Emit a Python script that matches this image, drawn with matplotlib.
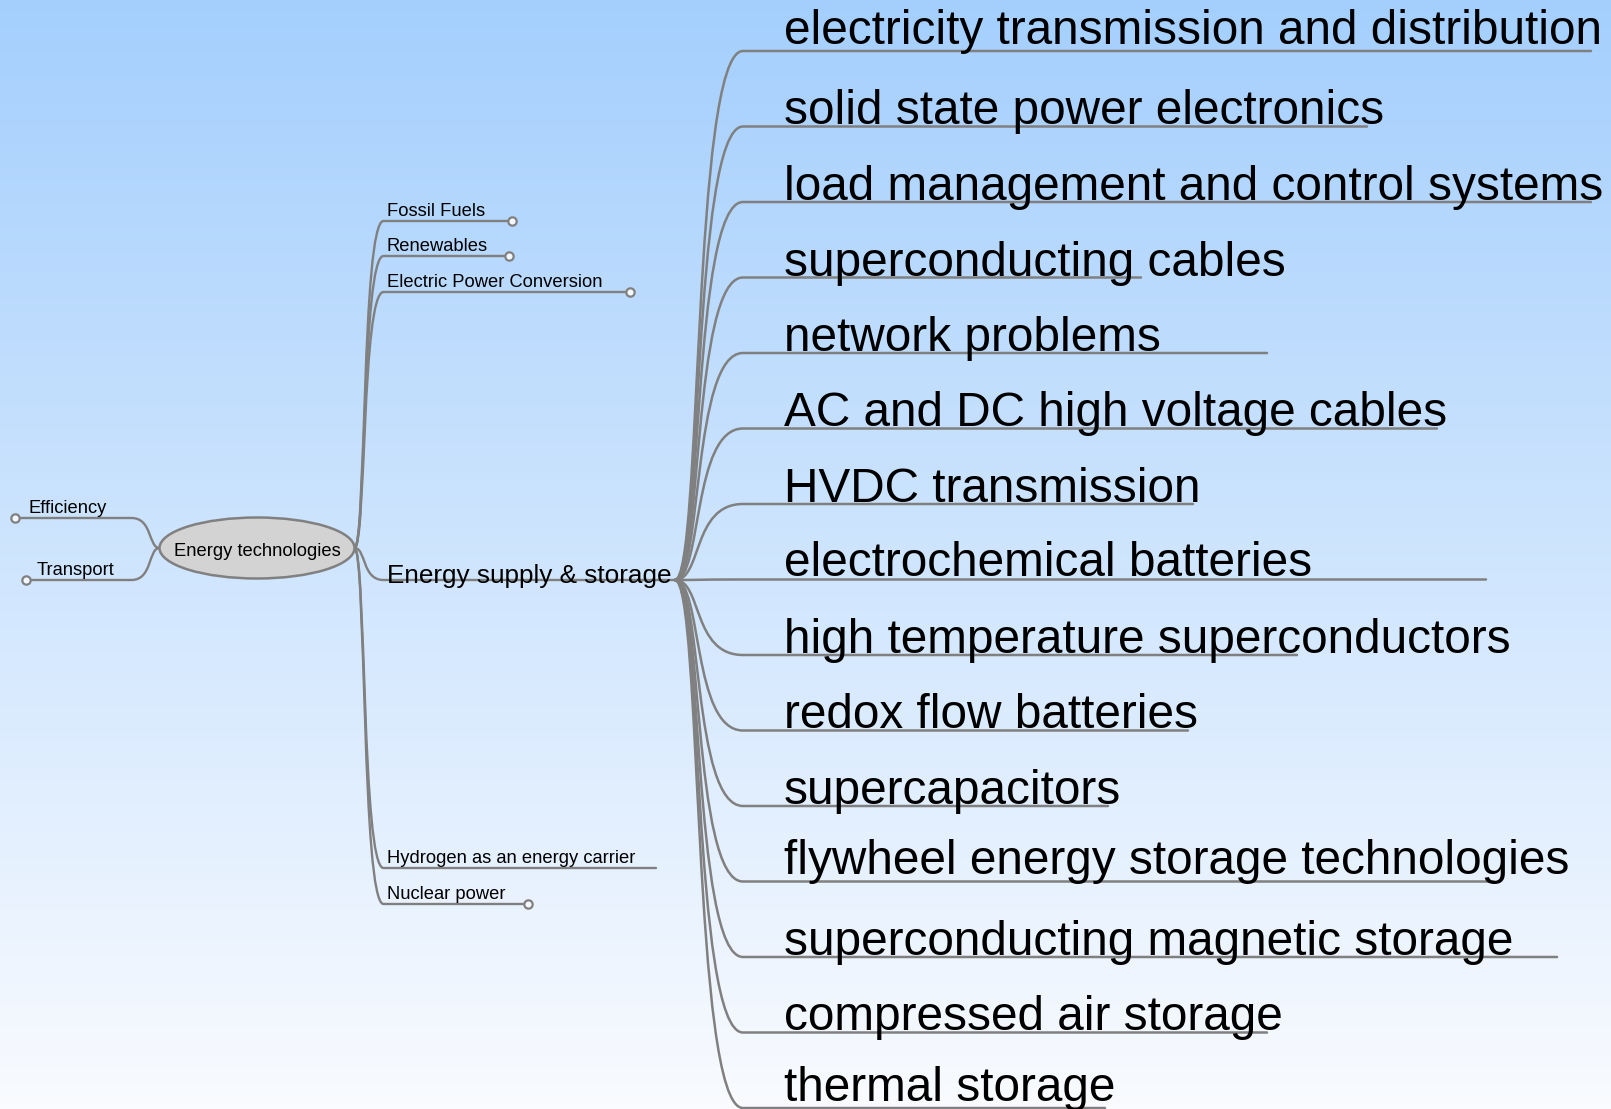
import numpy as np
import matplotlib.pyplot as plt
from matplotlib.path import Path
from matplotlib.patches import PathPatch, Ellipse

# mind map content
root = "Energy technologies"
left_topics = ["Efficiency", "Transport"]
right_topics = ["Fossil Fuels", "Renewables", "Electric Power Conversion",
                "Energy supply & storage", "Hydrogen as an energy carrier", "Nuclear power"]
right_folded = [True, True, True, False, False, True]
storage_items = [
    "electricity transmission and distribution",
    "solid state power electronics",
    "load management and control systems",
    "superconducting cables",
    "network problems",
    "AC and DC high voltage cables",
    "HVDC transmission",
    "electrochemical batteries",
    "high temperature superconductors",
    "redox flow batteries",
    "supercapacitors",
    "flywheel energy storage technologies",
    "superconducting magnetic storage",
    "compressed air storage",
    "thermal storage",
]

# layout (pixels, origin top-left)
left_y = [518, 580]
left_end = [15, 26]
left_text_x = [28, 37]
right_y = [221, 256, 292, 580, 868, 904]
right_end = [512, 509, 630, 675, 656, 528]
item_end = [1591, 1367, 1591, 1141, 1267, 1437, 1193, 1486, 1297, 1188,
            1108, 1494, 1557, 1267, 1105]
item_raise = [7, 2, 2, 2, 2, 2, 2, 3, 2, 2, 2, 7, 2, 2, 7]

W, H = 1611, 1109
edge = "#808080"
plt.rcParams['font.family'] = ['Liberation Sans', 'DejaVu Sans']

fig = plt.figure(figsize=(W / 100, H / 100), dpi=100)
ax = fig.add_axes([0, 0, 1, 1])
ax.set_xlim(0, W)
ax.set_ylim(H, 0)
ax.axis("off")

# background gradient
top = np.array([164, 207, 253]) / 255
bot = np.array([249, 251, 255]) / 255
t = np.linspace(0, 1, 256)[:, None, None]
grad = top * (1 - t) + bot * t
ax.imshow(grad, extent=[0, W, H, 0], aspect="auto", zorder=0)


def branch(x0, y0, x1, y1, x2, lw=1.7, a=0.4, b=0.25):
    dx = x1 - x0
    verts = [(x0, y0), (x0 + a * dx, y0), (x0 + b * dx, y1), (x1, y1), (x2, y1)]
    codes = [Path.MOVETO, Path.CURVE4, Path.CURVE4, Path.CURVE4, Path.LINETO]
    ax.add_patch(PathPatch(Path(verts, codes), fill=False, edgecolor=edge,
                           lw=lw, capstyle="round", zorder=2))


def knob(x, y):
    ax.plot(x, y, "o", ms=6, mfc="#f4f8ff", mec=edge, mew=1.6, zorder=3)


# root node
cx, cy = 257, 548
rw, rh = 195, 61
ax.add_patch(Ellipse((cx, cy), rw, rh, fc="#d3d3d3", ec=edge, lw=1.8, zorder=4))
ax.text(cx, cy + 4, root, fontsize=13.2, ha="center", va="center", zorder=5)

# left side
for name, y, xe, tx in zip(left_topics, left_y, left_end, left_text_x):
    branch(cx - rw / 2, cy, cx - rw / 2 - 28, y, xe)
    knob(xe, y)
    ax.text(tx, y - 5, name, fontsize=13.2, va="baseline")

# right side, first level
hx = cx + rw / 2
for name, y, xe, folded in zip(right_topics, right_y, right_end, right_folded):
    branch(hx, cy, hx + 29, y, xe)
    if folded:
        knob(xe, y)
    if name == "Energy supply & storage":
        ax.text(387, y + 3, name, fontsize=18.8, va="baseline", zorder=5)
    else:
        ax.text(387, y - 5, name, fontsize=13.2, va="baseline")

# energy supply & storage children
sx, sy = 675, 580
for i, (name, xe, r) in enumerate(zip(storage_items, item_end, item_raise)):
    y = 51 + 75.5 * i
    branch(sx, sy, sx + 68, y, xe, lw=1.8)
    ax.text(784, y - r, name, fontsize=34.4, va="baseline", zorder=5)

fig.savefig("out.png", dpi=100)
